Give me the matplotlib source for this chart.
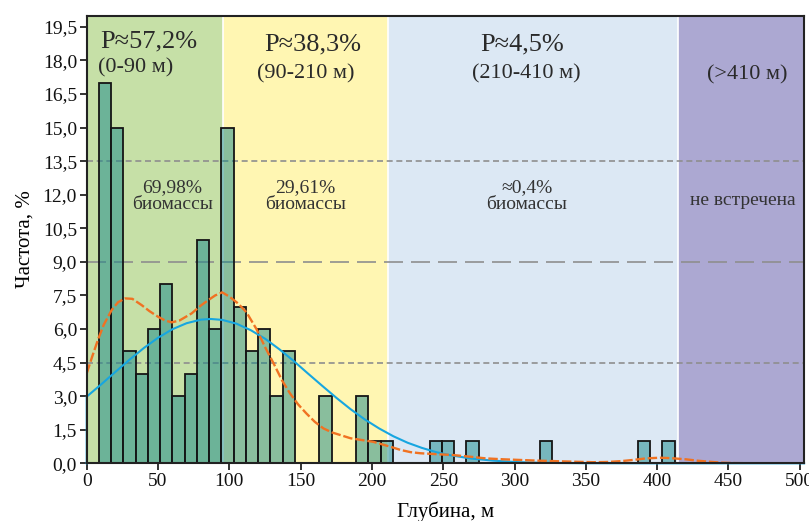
import numpy as np
import matplotlib
matplotlib.use("Agg")
import matplotlib.pyplot as plt
from matplotlib.ticker import FixedLocator, FuncFormatter

plt.rcParams['font.family'] = ['Liberation Serif', 'DejaVu Serif']

# ---------------- data ----------------
BIN_W = 8.59
# frequency (%) per depth bin, bin i spans [i*BIN_W, (i+1)*BIN_W]
freq = [0, 17, 15, 5, 4, 6, 8, 3, 4, 10, 6, 15, 7, 5, 6, 3, 5, 0, 0, 3, 0, 0, 3, 1, 1,
        0, 0, 0, 1, 1, 0, 1, 0, 0, 0, 0, 0, 1, 0, 0, 0, 0, 0, 0, 0, 1, 0, 1]

# normal fit curve
norm_x = [0, 0, 10, 20, 30, 40, 50, 60, 70, 80, 87, 95, 105, 115, 125, 135, 145, 155, 165,
          175, 185, 195, 205, 215, 225, 235, 245, 255, 270, 285, 300, 320, 350, 400, 503]
norm_y = [0, 2.98, 3.52, 4.08, 4.63, 5.15, 5.61, 5.99, 6.26, 6.42, 6.45, 6.41, 6.24, 5.95, 5.57,
          5.10, 4.58, 4.02, 3.47, 2.93, 2.42, 1.96, 1.56, 1.21, 0.92, 0.69, 0.50, 0.36, 0.21,
          0.12, 0.06, 0.02, 0.005, 0.0, 0.0]

# kernel density curve
kde_x = [0, 4, 8.2, 12, 17.5, 22, 27, 32, 38.5, 44, 50, 55, 59.6, 65, 73.6, 80, 85.2, 90, 95,
         100, 106, 112, 119, 125, 131, 137, 142.5, 148, 154, 160, 166, 172, 178, 185, 195, 201,
         207, 213, 220, 227, 234, 245, 257, 268, 280, 292, 304, 316, 327, 343, 355, 365, 375,
         383, 392, 402, 410, 420, 428, 437, 445, 455, 470, 503]
kde_y = [4.02, 4.8, 5.58, 6.2, 6.85, 7.2, 7.37, 7.35, 7.07, 6.8, 6.55, 6.38, 6.3, 6.38, 6.7,
         7.05, 7.29, 7.5, 7.64, 7.45, 7.15, 6.75, 6.0, 5.2, 4.47, 3.7, 3.13, 2.65, 2.23, 1.85,
         1.56, 1.38, 1.26, 1.12, 1.02, 0.96, 0.85, 0.74, 0.6, 0.5, 0.45, 0.41, 0.37, 0.3, 0.22,
         0.18, 0.15, 0.12, 0.10, 0.07, 0.05, 0.06, 0.1, 0.15, 0.22, 0.25, 0.23, 0.18, 0.12,
         0.07, 0.03, 0.01, 0.0, 0.0]

# depth zones
zone_edges = [0, 95.4, 211.4, 414.5, 503]
zone_colors = ['#c6e0a7', '#fff6b2', '#dce8f4', '#aca8d2']
zone_titles = ['P≈57,2%', 'P≈38,3%', 'P≈4,5%', '']
zone_ranges = ['(0-90 м)', '(90-210 м)', '(210-410 м)', '(>410 м)']
zone_biomass = ['69,98%\nбиомассы', '29,61%\nбиомассы', '≈0,4%\nбиомассы', 'не встречена']

y_ticks = [0, 1.5, 3, 4.5, 6, 7.5, 9, 10.5, 12, 13.5, 15, 16.5, 18, 19.5]
x_ticks = [0, 50, 100, 150, 200, 250, 300, 350, 400, 450, 500]

# ---------------- figure ----------------
fig = plt.figure(figsize=(8.09, 5.21), dpi=100)
ax = fig.add_axes([0.1072, 0.1107, 0.8867, 0.8591])
ax.set_xlim(0, 503)
ax.set_ylim(0, 20)

for i in range(4):
    ax.axvspan(zone_edges[i], zone_edges[i + 1], color=zone_colors[i], lw=0, zorder=0)
for e in zone_edges[1:-1]:
    ax.axvline(e, color='white', lw=1.2, zorder=0.5)

ax.axhline(13.5, color='#8e8e8e', lw=1.2, ls=(0, (3.6, 2.2)), zorder=1)
ax.axhline(4.5, color='#8e8e8e', lw=1.2, ls=(0, (3.6, 2.2)), zorder=1)
ax.axhline(9.0, color='#8e8e8e', lw=1.2, ls=(0, (11.4, 4.8)), zorder=1)

edges = np.arange(len(freq) + 1) * BIN_W
left = [edges[i] for i in range(len(freq)) if freq[i] > 0]
hts = [f for f in freq if f > 0]
ax.bar(left, hts, width=BIN_W, align='edge', color=(20/255, 136/255, 138/255, 0.5),
       edgecolor='#151515', linewidth=1.3, zorder=2)

ax.plot(norm_x, norm_y, color='#17a6e0', lw=1.5, zorder=3, clip_on=False)
ax.plot(kde_x, kde_y, color='#f07222', lw=1.7, ls=(0, (4, 1.2)), zorder=3.5)

# text annotations
title_pos = [(43.5, 18.85), (158.7, 18.7), (305, 18.7), (463, 18.7)]
range_pos = [(34.6, 17.65), (153.7, 17.4), (308.4, 17.4), (463, 17.35)]
bio_pos = [(60, 11.95), (153.5, 11.95), (308.7, 11.95), (459.7, 11.75)]
for i in range(4):
    if zone_titles[i]:
        ax.text(*title_pos[i], zone_titles[i], ha='center', va='center', fontsize=19,
                color='#2a2a2a', zorder=5)
    ax.text(*range_pos[i], zone_ranges[i], ha='center', va='center', fontsize=16,
            color='#2a2a2a', zorder=5)
    ax.text(*bio_pos[i], zone_biomass[i], ha='center', va='center', fontsize=14,
            color='#333333', linespacing=1.0, zorder=5)

# axes styling
ax.yaxis.set_major_locator(FixedLocator(y_ticks))
ax.xaxis.set_major_locator(FixedLocator(x_ticks))
ax.yaxis.set_major_formatter(FuncFormatter(lambda v, p: f"{v:.1f}".replace('.', ',')))
ax.xaxis.set_major_formatter(FuncFormatter(lambda v, p: f"{v:.0f}"))
ax.tick_params(axis='both', direction='out', length=5, width=1.2, labelsize=14,
               colors='#111111', pad=2)
for s in ax.spines.values():
    s.set_linewidth(1.5)
    s.set_color('#222222')
    s.set_zorder(6)

ax.set_xlabel('Глубина, м', fontsize=15, labelpad=8)
ax.set_ylabel('Частота, %', fontsize=15, labelpad=6)

fig.savefig('out.png', dpi=100)
